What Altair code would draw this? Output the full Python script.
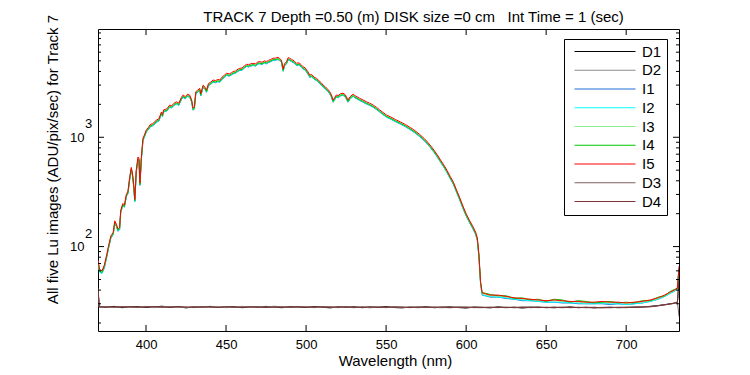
import altair as alt
import pandas as pd

F = "Liberation Sans"

# ---------------- data ----------------
wl_I = [370, 371, 372.5, 374, 375.5, 376.5, 378, 379.5, 380.5, 381.5,
        382.5, 383.5, 384.2, 385.5, 386.5, 387.7, 388.7, 389.8, 390.8, 391.5,
        392.3, 393, 393.9, 395, 395.6, 396.2, 397.1, 398.1, 399, 400.2,
        401.5, 402.5, 404, 405.5, 406.5, 408, 409.6, 410.3, 411, 413,
        414.8, 416, 417.5, 419, 420.5, 422, 423.2, 424.5, 426, 427.3,
        428.5, 429.4, 430.2, 431.1, 432.3, 433.6, 434.2, 435.7, 437, 437.8,
        439, 440.5, 441.9, 443.5, 444.8, 446.1, 447.5, 449, 450.3, 452,
        453.5, 454.4, 456, 457.5, 458.6, 460, 461.5, 462.8, 464, 465.5,
        466.9, 468.5, 470, 471.1, 472.5, 474, 475.3, 476.5, 478, 479.4,
        481, 482.5, 483.5, 484.6, 485.7, 486.5, 487.8, 488.8, 489.8, 491,
        492.5, 494, 495.5, 497, 498.1, 499.5, 501, 502.3, 503.5, 505,
        506.5, 508, 509.5, 510.6, 512, 513.5, 514.8, 515.8, 516.9, 517.8,
        518.9, 520, 521.5, 523.1, 524.5, 526.2, 527.5, 529.4, 530.5, 531.8,
        533.5, 535.5, 537.7, 539.8, 541.9, 544, 546, 548, 550.2, 553,
        556, 559, 562, 565, 568, 571, 574, 576, 578, 580,
        582, 584, 586, 588, 590, 592, 594, 596, 598, 600,
        602, 604, 606, 607, 608, 609, 610, 612, 615, 620,
        625, 630, 635, 640, 645, 650, 655, 660, 665, 670,
        675, 680, 685, 690, 695, 700, 705, 710, 715, 720,
        724, 727, 730, 732, 733]

I5 = [75, 62, 60, 68, 85, 100, 125, 135, 172, 160,
      145, 150, 215, 248, 240, 300, 320, 430, 530, 470,
      370, 270, 500, 660, 640, 380, 660, 980, 1050, 1170,
      1230, 1300, 1330, 1380, 1440, 1470, 1700, 1620, 1780, 1820,
      1970, 1940, 2050, 2110, 2050, 2300, 2440, 2350, 2480, 2430,
      2200, 1850, 1900, 2610, 2700, 2800, 2500, 3000, 2850, 2700,
      3100, 3200, 3340, 3300, 3380, 3340, 3550, 3700, 3850, 3800,
      3900, 3980, 4050, 4200, 4270, 4300, 4500, 4650, 4600, 4700,
      4750, 4700, 4900, 4920, 4850, 5000, 4920, 5050, 5150, 5280,
      5300, 5390, 5250, 5080, 4200, 4700, 4920, 5350, 5280, 5150,
      5000, 4750, 4800, 4600, 4420, 4300, 4000, 3700, 3750, 3550,
      3460, 3300, 3150, 3000, 2900, 2750, 2610, 2450, 2190, 2300,
      2440, 2400, 2500, 2530, 2450, 2190, 2350, 2480, 2400, 2350,
      2270, 2200, 2110, 2050, 1970, 1880, 1780, 1690, 1600, 1530,
      1450, 1380, 1310, 1230, 1150, 1060, 970, 900, 830, 760,
      690, 620, 560, 500, 440, 390, 330, 280, 235, 200,
      175, 155, 135, 120, 85, 48, 38, 37, 36, 36,
      35, 34, 33.5, 33, 32.5, 32, 32.5, 32, 31.5, 31.5,
      31, 31, 31.5, 31, 31, 30.5, 31, 31.5, 32.5, 34,
      36, 38, 40, 42, 66]

I4 = [73, 60, 58, 66, 82, 97, 121, 131, 167, 155,
      141, 146, 208, 240, 233, 291, 310, 417, 514, 456,
      359, 262, 485, 640, 621, 369, 640, 950, 1018, 1135,
      1193, 1261, 1290, 1339, 1397, 1426, 1649, 1571, 1727, 1765,
      1911, 1882, 1989, 2047, 1989, 2231, 2367, 2280, 2406, 2357,
      2134, 1795, 1843, 2532, 2619, 2716, 2425, 2910, 2765, 2619,
      3007, 3104, 3240, 3201, 3279, 3240, 3444, 3589, 3735, 3686,
      3783, 3861, 3929, 4074, 4142, 4171, 4365, 4511, 4462, 4559,
      4608, 4559, 4753, 4772, 4705, 4850, 4772, 4899, 4996, 5122,
      5141, 5228, 5093, 4928, 4074, 4559, 4772, 5190, 5122, 4996,
      4850, 4608, 4656, 4462, 4287, 4171, 3880, 3589, 3638, 3444,
      3356, 3201, 3056, 2910, 2813, 2668, 2532, 2377, 2124, 2231,
      2367, 2328, 2425, 2454, 2377, 2124, 2280, 2406, 2328, 2280,
      2202, 2134, 2047, 1989, 1911, 1824, 1727, 1639, 1552, 1484,
      1407, 1339, 1271, 1193, 1116, 1028, 941, 873, 805, 737,
      669, 601, 543, 485, 427, 378, 320, 272, 228, 194,
      170, 150, 131, 116, 82, 47, 37.5, 37.5, 36.5, 35.5,
      35.5, 33.5, 34, 32.5, 33, 31.5, 33, 32.5, 31, 32,
      31.5, 30.5, 31, 31.5, 30.5, 31, 30.5, 32, 32, 34.5,
      35.5, 38.5, 40.5, 41, 62]

I3 = [74, 61, 59, 67, 83, 98, 122, 132, 168, 157,
      142, 147, 210, 242, 235, 293, 313, 420, 518, 460,
      362, 264, 488, 645, 625, 372, 645, 957, 1025, 1142,
      1200, 1268, 1298, 1347, 1405, 1434, 1659, 1580, 1737, 1776,
      1922, 1893, 2000, 2059, 2000, 2244, 2380, 2293, 2420, 2371,
      2146, 1805, 1854, 2547, 2634, 2732, 2440, 2927, 2781, 2634,
      3025, 3122, 3259, 3220, 3298, 3259, 3464, 3610, 3756, 3708,
      3805, 3883, 3951, 4098, 4166, 4195, 4390, 4537, 4488, 4586,
      4634, 4586, 4781, 4800, 4732, 4878, 4800, 4927, 5025, 5151,
      5171, 5259, 5122, 4956, 4098, 4586, 4800, 5220, 5151, 5025,
      4878, 4634, 4683, 4488, 4312, 4195, 3902, 3610, 3659, 3464,
      3376, 3220, 3073, 2927, 2829, 2683, 2546, 2390, 2137, 2244,
      2380, 2342, 2439, 2468, 2390, 2137, 2293, 2420, 2342, 2293,
      2215, 2146, 2059, 2000, 1922, 1834, 1737, 1649, 1561, 1493,
      1415, 1347, 1278, 1200, 1122, 1034, 946, 878, 810, 741,
      673, 605, 546, 488, 429, 381, 322, 273, 229, 195,
      171, 151, 132, 117, 83, 47, 37, 36.5, 35.5, 35.5,
      34.5, 34, 33, 33, 32, 32, 32, 31.5, 31.5, 31,
      30.5, 31, 31, 30.5, 31, 30, 31, 31, 32, 33.5,
      35.5, 37.5, 39.5, 41.5, 63]

I2 = [70, 58, 57, 65, 81, 96, 120, 130, 165, 154,
      139, 144, 206, 238, 230, 288, 307, 413, 509, 451,
      355, 259, 480, 634, 614, 365, 634, 941, 1008, 1123,
      1181, 1248, 1277, 1325, 1382, 1411, 1632, 1555, 1709, 1747,
      1891, 1862, 1968, 2026, 1968, 2208, 2342, 2256, 2381, 2333,
      2112, 1776, 1824, 2506, 2592, 2688, 2400, 2880, 2736, 2592,
      2976, 3072, 3206, 3168, 3245, 3206, 3408, 3552, 3696, 3648,
      3744, 3821, 3888, 4032, 4099, 4128, 4320, 4464, 4416, 4512,
      4560, 4512, 4704, 4723, 4656, 4800, 4723, 4848, 4944, 5069,
      5088, 5174, 5040, 4877, 4032, 4512, 4723, 5136, 5069, 4944,
      4800, 4560, 4608, 4416, 4243, 4128, 3840, 3552, 3600, 3408,
      3322, 3168, 3024, 2880, 2784, 2640, 2506, 2352, 2102, 2208,
      2342, 2304, 2400, 2429, 2352, 2102, 2256, 2381, 2304, 2256,
      2179, 2112, 2026, 1968, 1891, 1805, 1709, 1622, 1536, 1469,
      1392, 1325, 1258, 1181, 1104, 1018, 931, 864, 797, 730,
      662, 595, 538, 480, 422, 374, 317, 269, 226, 192,
      168, 149, 130, 115, 81, 46, 36.5, 35.5, 35, 34.5,
      34, 33, 32.5, 32, 31.5, 31, 31, 31, 30.5, 30.5,
      30, 30, 30.5, 30, 30, 29.5, 30, 30.5, 31.5, 33,
      35, 37, 39, 41, 64]

I1 = [71, 59, 57, 64, 81, 95, 119, 129, 164, 153,
      138, 143, 205, 237, 229, 287, 305, 411, 506, 449,
      353, 258, 478, 630, 611, 363, 630, 936, 1003, 1117,
      1175, 1242, 1270, 1318, 1375, 1404, 1624, 1547, 1700, 1738,
      1881, 1853, 1958, 2015, 1958, 2197, 2330, 2244, 2368, 2321,
      2101, 1767, 1815, 2493, 2579, 2674, 2388, 2865, 2722, 2579,
      2961, 3056, 3190, 3152, 3228, 3190, 3390, 3534, 3677, 3629,
      3725, 3801, 3868, 4011, 4078, 4107, 4298, 4441, 4393, 4489,
      4536, 4489, 4680, 4699, 4632, 4775, 4699, 4823, 4918, 5042,
      5062, 5147, 5014, 4851, 4011, 4489, 4699, 5109, 5042, 4918,
      4775, 4536, 4584, 4393, 4221, 4107, 3820, 3534, 3581, 3390,
      3304, 3152, 3008, 2865, 2770, 2626, 2493, 2340, 2091, 2197,
      2330, 2292, 2388, 2416, 2340, 2091, 2244, 2368, 2292, 2244,
      2168, 2101, 2015, 1958, 1881, 1795, 1700, 1614, 1528, 1461,
      1385, 1318, 1251, 1175, 1098, 1012, 926, 860, 793, 726,
      659, 592, 535, 478, 420, 372, 315, 267, 224, 191,
      167, 148, 129, 114, 80, 46, 36, 35.5, 34.5, 34.5,
      33.5, 33, 32, 32, 31.5, 31, 31, 30.5, 30.5, 30,
      30, 30, 30, 29.5, 30, 29.5, 30, 30.5, 31.5, 33,
      35, 37, 39, 41, 63]

wl_D = [370, 370.8, 375, 380, 385, 390, 395, 400, 405, 410,
        415, 420, 425, 430, 435, 440, 445, 450, 455, 460,
        465, 470, 475, 480, 485, 490, 495, 500, 505, 510,
        515, 520, 525, 530, 535, 540, 545, 550, 555, 560,
        565, 570, 575, 580, 585, 590, 595, 600, 605, 610,
        615, 620, 625, 630, 635, 640, 645, 650, 655, 660,
        665, 670, 675, 680, 685, 690, 695, 700, 705, 710,
        715, 720, 725, 730, 732, 733]

D1 = [40, 28.2, 27.9, 28.4, 27.6, 28.1, 28.3, 27.7, 28.0, 28.5,
      27.8, 28.2, 27.5, 28.1, 27.9, 28.4, 27.7, 28.0, 28.3, 27.6,
      28.1, 27.8, 28.4, 27.9, 27.6, 28.2, 28.0, 27.7, 28.3, 27.9,
      27.5, 28.1, 27.8, 28.2, 27.6, 28.0, 27.9, 28.3, 27.7, 27.5,
      28.0, 27.8, 28.2, 27.6, 27.9, 28.1, 27.7, 27.4, 28.0, 27.8,
      27.5, 28.1, 27.7, 27.9, 27.4, 27.8, 28.0, 27.6, 27.9, 27.7,
      28.1, 27.6, 27.8, 27.5, 27.7, 27.9, 27.6, 27.8, 28.0, 28.1,
      28.4, 28.9, 29.6, 30.4, 31.0, 48]

D2 = [38, 27.9, 28.3, 27.7, 28.2, 27.8, 28.0, 28.4, 27.6, 28.1,
      28.3, 27.7, 28.0, 27.6, 28.3, 27.9, 28.2, 27.6, 28.0, 28.4,
      27.7, 28.2, 27.9, 28.5, 28.0, 27.7, 28.3, 28.1, 27.6, 28.2,
      28.0, 27.6, 28.3, 27.8, 28.1, 27.5, 28.2, 27.8, 28.0, 27.9,
      27.6, 28.2, 27.7, 28.0, 27.8, 27.5, 28.1, 27.9, 27.6, 28.0,
      27.8, 27.6, 28.0, 27.5, 27.9, 28.1, 27.6, 27.9, 27.5, 28.0,
      27.7, 27.9, 27.5, 27.8, 27.6, 27.5, 27.9, 27.7, 27.8, 28.2,
      28.1, 28.7, 29.4, 30.2, 30.8, 40]

D3 = [41, 28.0, 28.1, 27.8, 28.3, 28.0, 27.7, 28.2, 28.1, 27.8,
      28.1, 28.0, 27.7, 28.3, 27.8, 28.1, 27.9, 28.3, 27.7, 28.0,
      28.3, 27.9, 28.0, 27.7, 28.2, 27.9, 27.8, 28.2, 27.9, 28.0,
      28.2, 27.8, 27.9, 27.6, 28.1, 27.8, 28.0, 27.6, 28.2, 27.8,
      27.9, 27.6, 28.0, 27.8, 27.6, 27.9, 27.8, 28.0, 27.7, 27.6,
      27.9, 27.7, 27.8, 27.7, 28.0, 27.6, 27.8, 27.7, 27.6, 27.9,
      27.6, 27.8, 27.7, 27.9, 27.5, 27.8, 27.7, 27.6, 27.9, 27.9,
      28.3, 28.8, 29.5, 30.3, 31.2, 23]

D4 = [42, 28.1, 28.0, 28.2, 27.9, 28.2, 28.0, 27.9, 28.3, 28.0,
      27.9, 28.3, 28.0, 27.8, 28.1, 28.0, 27.8, 28.1, 28.0, 27.8,
      28.0, 28.1, 27.7, 28.1, 27.9, 28.0, 28.2, 27.8, 28.0, 28.1,
      27.8, 28.0, 28.1, 27.9, 27.8, 28.1, 27.7, 28.0, 27.9, 28.0,
      27.7, 28.0, 27.8, 27.9, 28.0, 27.7, 27.9, 27.8, 27.9, 27.7,
      27.8, 27.9, 27.6, 27.8, 27.8, 27.9, 27.7, 27.8, 27.8, 27.6,
      27.8, 27.7, 27.9, 27.6, 27.8, 27.7, 27.8, 27.9, 27.7, 28.0,
      28.2, 28.8, 29.5, 30.3, 30.9, 50]

series_names = ["D1", "D2", "I1", "I2", "I3", "I4", "I5", "D3", "D4"]
series_colors = ["#000000", "#8c8c8c", "#1f6fd6", "#00ffff", "#8cee8c",
                 "#00c800", "#ff0000", "#806060", "#7c3434"]
series_values = {"D1": D1, "D2": D2, "I1": I1, "I2": I2, "I3": I3,
                 "I4": I4, "I5": I5, "D3": D3, "D4": D4}

x_ticks = [400, 450, 500, 550, 600, 650, 700]
y_major = [100, 1000]
y_minor = [20, 30, 40, 50, 60, 70, 80, 90,
           200, 300, 400, 500, 600, 700, 800, 900,
           2000, 3000, 4000, 5000, 6000, 7000, 8000, 9000]
y_exp = ["2", "3"]

title_text = "TRACK 7 Depth =0.50 (m) DISK size =0 cm\u00a0\u00a0 Int Time = 1 (sec)"
x_title = "Wavelength (nm)"
y_title = "All five Lu images (ADU/pix/sec) for Track 7"

# ---------------- table ----------------
rows = []
for name in series_names:
    wl = wl_D if name.startswith("D") else wl_I
    vals = series_values[name]
    assert len(wl) == len(vals), (name, len(wl), len(vals))
    for w, v in zip(wl, vals):
        rows.append({"wl": w, "val": v, "series": name})
df = pd.DataFrame(rows)

W, H = 581, 302
xs = alt.Scale(domain=[370, 733], nice=False, zero=False)
ys = alt.Scale(type="log", domain=[16.9, 9780], nice=False)

x_axis = alt.Axis(values=x_ticks, title=x_title, ticks=False, tickSize=0,
                  domain=False, grid=False, labelFont=F, labelFontSize=13,
                  labelColor="black", labelPadding=7, titleFont=F,
                  titleFontSize=15, titleFontWeight="normal",
                  titleColor="black", titleX=297, titleY=22,
                  titleBaseline="top")
y_axis = alt.Axis(values=y_major, labelExpr="'10'", title=y_title,
                  ticks=False, tickSize=0, domain=False, grid=False,
                  labelFont=F, labelFontSize=13, labelColor="black",
                  labelPadding=14, titleFont=F, titleFontSize=15,
                  titleFontWeight="normal", titleColor="black",
                  titleX=-38, titleY=130, titleBaseline="bottom",
                  titleAlign="center")

lines = alt.Chart(df).mark_line(strokeWidth=1, clip=True).encode(
    x=alt.X("wl:Q", scale=xs, axis=x_axis, title=x_title),
    y=alt.Y("val:Q", scale=ys, axis=y_axis, title=y_title),
    color=alt.Color("series:N",
                    scale=alt.Scale(domain=series_names, range=series_colors),
                    legend=alt.Legend(title=None, orient="none", legendX=466,
                                      legendY=10, symbolType="stroke",
                                      symbolSize=3721, symbolStrokeWidth=1,
                                      clipHeight=15,
                                      labelFont=F, labelFontSize=15,
                                      labelColor="black", labelOffset=6,
                                      symbolOffset=5, rowPadding=2.75, padding=5,
                                      strokeColor="black", fillColor="white")),
)

sup = alt.Chart(pd.DataFrame({"v": y_major, "t": y_exp})).mark_text(
    align="left", baseline="middle", font=F, fontSize=13, color="black", dy=-13
).encode(x=alt.value(-13), y=alt.Y("v:Q", scale=ys, axis=y_axis, title=y_title),
         text="t:N")

xt = pd.DataFrame({"v": x_ticks})
ymaj = pd.DataFrame({"v": y_major})
ymin = pd.DataFrame({"v": y_minor})

def xrule(y0, y1):
    return alt.Chart(xt).mark_rule(color="black", strokeWidth=1).encode(
        x=alt.X("v:Q", scale=xs, axis=x_axis, title=x_title),
        y=alt.value(y0), y2=alt.value(y1))

def yrule(d, x0, x1):
    return alt.Chart(d).mark_rule(color="black", strokeWidth=1).encode(
        y=alt.Y("v:Q", scale=ys, axis=y_axis, title=y_title),
        x=alt.value(x0), x2=alt.value(x1))

chart = alt.layer(
    lines, sup,
    xrule(H, H - 6), xrule(0, 6),
    yrule(ymaj, 0, 6), yrule(ymin, 0, 3),
    yrule(ymaj, W, W - 6), yrule(ymin, W, W - 3),
).properties(
    width=W, height=H,
    title=alt.TitleParams(text=title_text, font=F, fontSize=15,
                          fontWeight="normal", color="black", anchor="middle",
                          frame="group", dx=25, offset=-11),
    padding={"left": 90, "top": 21, "right": 60, "bottom": 44},
    autosize=alt.AutoSizeParams(type="none"),
    background="white",
).configure_view(stroke="black", strokeWidth=1)

chart.save("out.html", embed_options={"renderer": "svg", "actions": False})
